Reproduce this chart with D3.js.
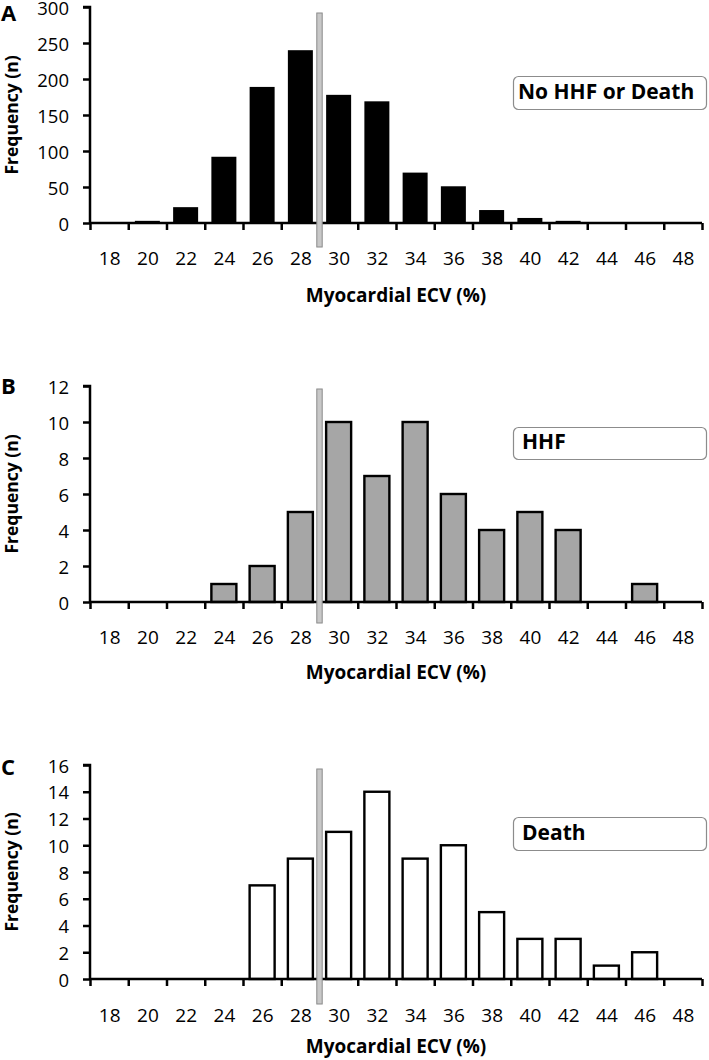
<!DOCTYPE html>
<html>
<head>
<meta charset="utf-8">
<script src="https://cdn.jsdelivr.net/npm/d3@7"></script>
<style>
  html, body { margin: 0; padding: 0; background: #fff; }
  svg { display: block; }
  text { font-family: "Open Sans", Lato, sans-serif; fill: #000; }
</style>
</head>
<body>
<svg id="chart" width="709" height="1060"></svg>
<script>
// ---- Data ----
const categories = [18, 20, 22, 24, 26, 28, 30, 32, 34, 36, 38, 40, 42, 44, 46, 48];
const noHhfOrDeath = [0, 3, 22, 92, 189, 240, 178, 169, 70, 51, 18, 7, 3, 0, 1, 0];
const hhf = [0, 0, 0, 1, 2, 5, 10, 7, 10, 6, 4, 5, 4, 0, 1, 0];
const death = [0, 0, 0, 0, 7, 9, 11, 14, 9, 10, 5, 3, 3, 1, 2, 0];
const yTicksA = [0, 50, 100, 150, 200, 250, 300];
const yTicksB = [0, 2, 4, 6, 8, 10, 12];
const yTicksC = [0, 2, 4, 6, 8, 10, 12, 14, 16];
const cutoffECV = 29;
const panelLetters = ["A", "B", "C"];
const legendLabels = ["No HHF or Death", "HHF", "Death"];
const xTitle = "Myocardial ECV (%)";
const yTitle = "Frequency (n)";

// ---- Layout ----
const svg = d3.select("#chart");
const xLeft = 90, xRight = 702;
const x = d3.scaleLinear().domain([17, 49]).range([xLeft, xRight]);
const boundaries = d3.range(17, 50, 2);
const barW = 25;
const FONT = "'Open Sans', Lato, sans-serif";

const panels = [
  { values: noHhfOrDeath, ticks: yTicksA, top: 7, zero: 223, fill: "#000", stroke: "none",
    letterY: 21, labelY: 265, titleY: 302, legend: [76, 109], marker: [13, 247] },
  { values: hhf, ticks: yTicksB, top: 386, zero: 602, fill: "#a6a6a6", stroke: "#000",
    letterY: 394, labelY: 644, titleY: 679, legend: [427, 459], marker: [389, 623] },
  { values: death, ticks: yTicksC, top: 765, zero: 979, fill: "#fff", stroke: "#000",
    letterY: 775, labelY: 1022, titleY: 1053, legend: [817, 850], marker: [769, 1004] }
];

panels.forEach((p, i) => {
  const g = svg.append("g");
  const y = d3.scaleLinear()
    .domain([0, d3.max(p.ticks)])
    .range([p.zero, p.top]);

  // bars
  g.selectAll("rect.bar")
    .data(categories.map((c, j) => ({ c, v: p.values[j] })).filter(d => d.v > 0))
    .join("rect")
    .attr("class", "bar")
    .attr("x", d => x(d.c) - barW / 2)
    .attr("y", d => y(d.v))
    .attr("width", barW)
    .attr("height", d => p.zero - y(d.v))
    .attr("fill", p.fill)
    .attr("stroke", p.stroke)
    .attr("stroke-width", p.stroke === "none" ? 0 : 2.4);

  // y axis
  const yAxis = d3.axisLeft(y).tickValues(p.ticks).tickSize(7).tickPadding(14).tickFormat(d3.format("d"));
  const ya = g.append("g").attr("transform", `translate(${xLeft},0)`).call(yAxis);
  ya.select(".domain").attr("stroke", "#000").attr("stroke-width", 2.5)
    .attr("d", `M-7,${p.top}H0V${p.zero}`);
  ya.selectAll(".tick line").attr("stroke", "#000").attr("stroke-width", 2.5);
  ya.selectAll(".tick text").attr("font-size", 18.5).attr("font-family", FONT).attr("fill", "#000")
    .attr("x", -21).attr("dy", "0.38em");

  // x axis: boundary ticks
  const xAxis = d3.axisBottom(x).tickValues(boundaries).tickSize(7).tickFormat("");
  const xa = g.append("g").attr("transform", `translate(0,${p.zero})`).call(xAxis);
  xa.select(".domain").attr("stroke", "#000").attr("stroke-width", 2.5)
    .attr("d", `M${xLeft},0H${xRight}`);
  xa.selectAll(".tick line").attr("stroke", "#000").attr("stroke-width", 2.5);

  // x labels
  const xl = d3.axisBottom(x).tickValues(categories).tickSize(0).tickFormat(d3.format("d"));
  const xla = g.append("g").attr("transform", `translate(0,${p.labelY})`).call(xl);
  xla.select(".domain").remove();
  xla.selectAll(".tick text").attr("font-size", 19).attr("font-family", FONT).attr("fill", "#000")
    .attr("y", 0).attr("dy", 0);

  // cutoff marker
  g.append("rect")
    .attr("x", x(cutoffECV) - 2.7)
    .attr("y", p.marker[0])
    .attr("width", 5.4)
    .attr("height", p.marker[1] - p.marker[0])
    .attr("fill", "#c8c8c8")
    .attr("stroke", "#8a8a8a")
    .attr("stroke-width", 1);

  // x title
  g.append("text")
    .attr("x", (xLeft + xRight) / 2)
    .attr("y", p.titleY)
    .attr("text-anchor", "middle")
    .attr("font-size", 19)
    .attr("font-weight", "bold")
    .text(xTitle);

  // y title
  g.append("text")
    .attr("transform", `translate(18,${(p.top + p.zero) / 2}) rotate(-90)`)
    .attr("text-anchor", "middle")
    .attr("font-size", 17.5)
    .attr("font-weight", "bold")
    .text(yTitle);

  // panel letter
  g.append("text")
    .attr("x", 1)
    .attr("y", p.letterY)
    .attr("font-size", 22)
    .attr("font-weight", "bold")
    .text(panelLetters[i]);

  // legend box
  g.append("rect")
    .attr("x", 513.5)
    .attr("y", p.legend[0] + 0.5)
    .attr("width", 193)
    .attr("height", p.legend[1] - p.legend[0])
    .attr("rx", 5)
    .attr("fill", "#fff")
    .attr("stroke", "#8c8c8c")
    .attr("stroke-width", 1.2);
  g.append("text")
    .attr("x", i === 0 ? 518 : 522)
    .attr("y", p.legend[1] - 10)
    .attr("font-size", 21)
    .attr("font-weight", "bold")
    .text(legendLabels[i]);
});
</script>
</body>
</html>
